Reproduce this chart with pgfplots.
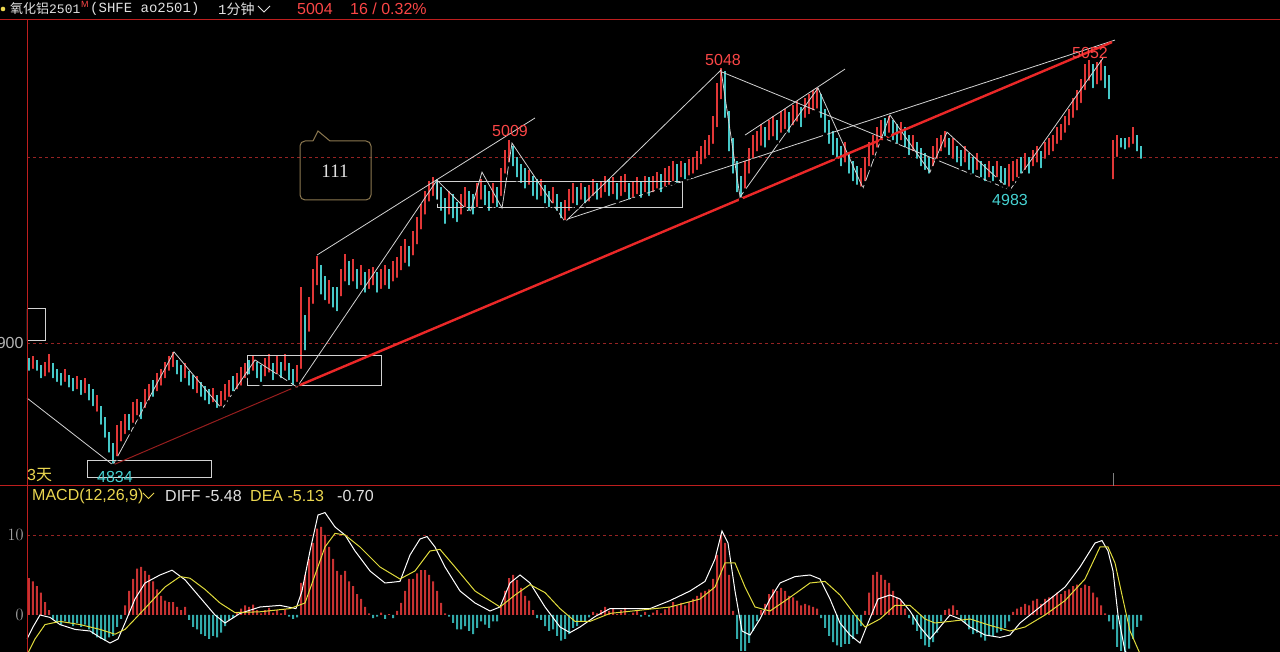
\documentclass[border=0pt]{standalone}
\usepackage{pgfplots}
\usepackage{pgfplotstable}
\pgfplotsset{compat=1.18}
\usepackage{fontspec}
\setmainfont{Liberation Sans}
\newfontfamily\cjk{Noto Sans CJK SC}
\newfontfamily\mono{Liberation Mono}
\newfontfamily\serifx{Liberation Serif}
\newcommand\fs[1]{\fontsize{#1}{#1}\selectfont}
\definecolor{upred}{RGB}{225,55,55}
\definecolor{dncyan}{RGB}{70,200,200}
\definecolor{histred}{RGB}{200,50,50}
\definecolor{histcyan}{RGB}{50,170,170}
\definecolor{framered}{RGB}{190,30,30}
\definecolor{gridred}{RGB}{150,35,35}
\definecolor{txtred}{RGB}{250,70,70}
\definecolor{txtcyan}{RGB}{70,210,210}
\definecolor{txtyellow}{RGB}{235,215,80}
\definecolor{txtwhite}{RGB}{225,225,225}
\definecolor{ticktxt}{RGB}{180,180,180}
\definecolor{tanbox}{RGB}{140,120,80}
\definecolor{dealine}{RGB}{225,220,60}
\definecolor{linewhite}{RGB}{210,210,210}
\definecolor{trendred}{RGB}{235,40,40}
\definecolor{trenddark}{RGB}{150,30,30}

\pgfplotstableread{
x lo hi d m
29 4884 4892 0 4.6
33 4885 4893 1 4.2
37 4884 4891 0 3.6
41 4880 4888 0 2.8
45 4881 4890 1 1.6
49 4883 4894 1 0.6
53 4880 4889 0 -0.5
57 4878 4886 0 -1.0
61 4876 4884 0 -1.2
65 4878 4886 1 -0.8
69 4875 4883 0 -1.0
73 4873 4881 0 -1.4
77 4874 4882 1 -1.0
81 4871 4880 0 -1.5
85 4872 4881 1 -1.2
89 4868 4878 0 -1.8
93 4865 4875 0 -2.4
97 4862 4872 1 -2.8
101 4855 4866 0 -3.0
105 4848 4860 0 -3.2
109 4840 4852 0 -2.8
113 4834 4846 0 -2.6
117 4838 4856 1 -1.5
121 4846 4858 1 -0.5
125 4850 4862 1 1.2
129 4852 4862 0 3.0
133 4856 4868 1 4.5
137 4860 4870 1 5.8
141 4858 4868 0 6.0
145 4864 4875 1 5.5
149 4868 4878 1 5.0
153 4870 4880 0 4.2
157 4873 4884 1 3.2
161 4876 4886 1 2.4
165 4880 4890 1 1.8
169 4884 4893 1 1.6
173 4886 4895 1 1.6
177 4882 4891 0 1.0
181 4878 4888 0 0.6
185 4880 4889 1 1.0
189 4876 4885 0 -0.6
193 4874 4883 0 -1.5
197 4872 4882 1 -1.8
201 4870 4879 0 -2.4
205 4868 4877 0 -2.6
209 4866 4875 0 -3.0
213 4867 4876 1 -2.6
217 4864 4872 0 -2.8
221 4865 4874 1 -2.2
225 4868 4878 1 -1.4
229 4870 4880 1 -0.6
233 4873 4882 0 -0.4
237 4874 4884 1 0.4
241 4876 4887 1 0.8
245 4880 4889 1 1.2
249 4882 4891 0 1.0
253 4884 4893 1 1.3
257 4880 4890 0 0.6
261 4878 4888 0 0.2
265 4881 4892 1 0.6
269 4883 4894 1 0.9
273 4879 4889 0 0.3
277 4882 4893 1 0.6
281 4880 4890 0 0.2
285 4884 4894 1 0.7
289 4879 4889 0 -0.2
293 4876 4886 0 -0.5
297 4878 4888 1 -0.3
301 4885 4930 1 4.0
305 4895 4915 0 5.0
309 4905 4925 1 7.0
313 4920 4940 1 9.0
317 4930 4947 1 10.8
321 4925 4942 0 11.0
325 4922 4936 0 10.0
329 4920 4934 1 8.5
333 4918 4930 0 7.0
337 4916 4930 0 5.5
341 4924 4940 1 5.0
345 4932 4948 1 5.5
349 4930 4944 0 4.2
353 4932 4945 1 3.6
357 4928 4940 0 2.6
361 4930 4942 1 2.0
365 4926 4938 0 1.0
369 4928 4940 1 0.2
373 4930 4941 1 -0.4
377 4926 4938 0 -0.2
381 4928 4940 1 0.3
385 4930 4942 1 -0.5
389 4928 4940 0 0.1
393 4932 4944 1 -0.4
397 4934 4946 1 0.5
401 4938 4952 1 1.5
405 4942 4956 1 3.0
409 4940 4952 0 4.5
413 4946 4960 1 4.5
417 4952 4968 1 5.2
421 4960 4975 1 5.6
425 4968 4982 1 5.6
429 4975 4987 1 5.0
433 4978 4989 1 4.2
437 4976 4988 0 3.0
441 4970 4984 0 1.5
445 4963 4978 0 0.2
449 4968 4982 1 -0.2
453 4966 4980 0 -1.0
457 4964 4976 0 -1.8
461 4968 4980 1 -1.8
465 4972 4984 1 -1.4
469 4970 4982 0 -2.0
473 4968 4980 0 -2.4
477 4972 4986 1 -1.6
481 4976 4988 1 -0.8
485 4973 4985 0 -1.2
489 4970 4982 0 -1.6
493 4974 4986 1 -0.8
497 4972 4984 0 -0.8
501 4978 4994 1 1.2
505 4990 5004 1 3.0
509 4996 5009 1 4.6
513 4994 5006 0 5.0
517 4988 5000 0 4.4
521 4985 4996 0 3.4
525 4982 4994 0 2.4
529 4984 4993 1 1.8
533 4978 4990 0 0.6
537 4976 4988 0 -0.4
541 4978 4988 1 -0.6
545 4974 4985 0 -1.4
549 4972 4982 0 -2.0
553 4974 4984 1 -1.8
557 4970 4980 0 -2.6
561 4966 4976 0 -3.2
565 4965 4977 1 -3.0
569 4970 4983 1 -2.4
573 4974 4986 1 -1.6
577 4973 4984 0 -1.4
581 4976 4986 1 -0.8
585 4974 4984 0 -0.8
589 4975 4985 1 -0.3
593 4978 4988 1 0.4
597 4976 4986 0 0.2
601 4977 4987 1 0.6
605 4980 4990 1 1.0
609 4978 4988 0 0.5
613 4979 4989 1 0.8
617 4976 4986 0 0.1
621 4978 4990 1 0.6
625 4980 4991 1 0.9
629 4976 4986 0 0.0
633 4977 4987 1 0.3
637 4979 4989 1 0.6
641 4977 4987 0 -0.2
645 4980 4990 1 0.4
649 4978 4989 0 -0.2
653 4980 4990 1 0.3
657 4982 4992 1 0.6
661 4980 4991 0 0.2
665 4983 4994 1 0.7
669 4984 4995 1 1.0
673 4986 4998 1 1.6
677 4985 4996 0 1.2
681 4988 4998 1 1.5
685 4987 4997 0 1.2
689 4989 4999 1 1.6
693 4990 5000 1 2.0
697 4992 5003 1 2.4
701 4995 5006 1 2.8
705 4998 5009 1 3.0
709 5000 5012 1 3.2
713 5006 5022 1 4.5
717 5015 5040 1 7.5
721 5030 5048 1 10.0
725 5020 5046 0 9.0
729 5002 5025 0 5.0
733 4990 5010 0 0.5
737 4980 4998 0 -3.0
741 4977 4990 0 -4.5
745 4982 4998 1 -4.5
749 4990 5005 1 -3.5
753 4998 5012 1 -2.0
757 5002 5014 1 -0.8
761 5005 5018 1 0.6
765 5004 5016 0 1.4
769 5008 5020 1 2.6
773 5010 5022 1 3.2
777 5008 5020 0 3.0
781 5012 5025 1 3.4
785 5014 5026 1 3.0
789 5012 5024 0 2.4
793 5016 5028 1 2.2
797 5018 5030 1 1.8
801 5015 5027 0 1.2
805 5020 5032 1 1.4
809 5022 5034 1 1.2
813 5024 5036 1 1.0
817 5025 5037 1 0.8
821 5020 5034 0 -0.4
825 5012 5026 0 -1.6
829 5006 5020 0 -2.6
833 5000 5014 0 -3.4
837 4998 5010 0 -3.8
841 4994 5006 0 -4.0
845 4996 5008 1 -3.6
849 4990 5002 0 -3.6
853 4986 4998 0 -3.0
857 4984 4995 0 -2.4
861 4983 4994 1 -1.4
865 4986 5000 1 0.5
869 4994 5008 1 2.8
873 5000 5012 1 5.0
877 5004 5016 1 5.4
881 5008 5020 1 5.0
885 5010 5021 0 4.4
889 5012 5022 1 4.0
893 5008 5020 0 3.0
897 5006 5018 0 2.2
901 5008 5019 1 1.8
905 5004 5016 0 0.8
909 5000 5012 0 -0.4
913 5002 5012 1 -1.2
917 4998 5008 0 -2.0
921 4994 5005 0 -3.0
925 4992 5002 0 -3.8
929 4990 5000 0 -4.0
933 4994 5006 1 -3.4
937 4998 5010 1 -2.2
941 5002 5012 1 -0.8
945 5004 5014 1 0.6
949 5000 5010 0 0.8
953 4998 5010 1 1.2
957 4996 5006 0 0.6
961 4994 5004 0 -0.6
965 4996 5006 1 -1.0
969 4992 5002 0 -1.8
973 4990 5000 0 -2.4
977 4992 5002 1 -2.2
981 4988 4998 0 -2.8
985 4986 4996 0 -3.2
989 4988 4998 1 -2.6
993 4986 4995 0 -2.6
997 4988 4998 1 -2.2
1001 4985 4995 0 -2.0
1005 4984 4994 0 -1.6
1009 4983 4996 1 -0.8
1013 4986 4998 1 0.4
1017 4988 4999 1 0.8
1021 4990 5000 0 1.0
1025 4992 5002 1 1.4
1029 4990 5000 0 1.2
1033 4994 5004 1 1.8
1037 4996 5006 1 2.0
1041 4993 5003 0 1.4
1045 4998 5008 1 2.0
1049 5000 5010 1 2.2
1053 5002 5012 1 2.4
1057 5006 5016 1 2.8
1061 5008 5018 1 2.6
1065 5012 5022 1 3.0
1069 5016 5026 1 3.2
1073 5020 5032 1 3.6
1077 5024 5036 1 3.8
1081 5028 5042 1 3.4
1085 5035 5050 1 3.8
1089 5040 5052 1 3.6
1093 5036 5050 0 2.8
1097 5038 5051 1 2.2
1101 5040 5052 1 1.2
1105 5036 5049 0 0.2
1109 5030 5044 0 -0.8
1113 4987 5009 1 -1.8
1117 4999 5012 1 -4.0
1121 5004 5010 0 -4.5
1125 5003 5010 0 -4.6
1129 5004 5011 1 -4.2
1133 5006 5016 1 -3.0
1137 5002 5012 0 -1.5
1141 4998 5006 0 -0.7
}\candles

\pgfplotstableread{
x v
27 -3.0
33 -1.5
40 0.0
50 -0.3
60 -1.2
75 -1.8
90 -2.0
100 -2.8
110 -3.5
118 -3.0
125 -1.0
135 2.0
145 4.0
160 5.0
172 5.6
185 4.4
200 2.2
215 0.0
225 -1.0
240 0.2
260 1.0
280 1.2
296 0.8
302 3.0
310 8.0
318 12.5
325 12.8
335 11.0
345 10.0
355 8.0
370 5.5
385 4.0
400 4.2
410 7.5
420 9.5
427 9.8
435 8.5
445 6.0
460 3.0
475 1.5
490 0.5
500 1.0
510 4.0
520 5.0
530 4.0
545 1.0
560 -1.5
570 -2.2
580 -1.5
595 -0.2
610 0.8
630 0.8
650 0.8
670 1.8
690 3.0
705 4.2
715 7.0
722 10.5
728 9.0
735 3.0
742 -2.0
750 -2.5
760 -0.5
770 2.0
780 4.0
795 4.8
810 5.0
820 4.5
830 2.0
840 -1.0
850 -2.5
860 -3.5
868 -1.0
878 2.0
890 2.5
900 2.0
910 0.5
920 -1.5
930 -3.0
940 -1.5
950 0.0
960 -0.5
970 -1.5
985 -2.5
1000 -2.8
1010 -2.5
1020 -1.0
1035 0.5
1050 2.0
1065 3.5
1080 6.0
1095 9.0
1102 9.3
1108 8.0
1113 5.5
1118 0.0
1125 -4.5
1132 -5.5
1141 -5.48
}\diffdata

\pgfplotstableread{
x v
27 -5.0
35 -3.0
45 -1.2
60 -0.8
80 -1.2
100 -1.8
115 -2.4
125 -1.8
135 -0.5
150 1.5
165 3.5
180 4.8
190 4.6
205 3.2
220 1.5
235 0.3
260 0.4
290 0.8
305 1.5
315 5.0
325 8.5
335 10.2
345 10.0
360 8.5
380 6.0
400 4.5
415 5.5
430 8.0
440 8.2
455 6.0
475 3.0
500 1.0
515 2.5
530 3.8
545 2.8
560 0.8
575 -0.8
590 -0.8
610 0.2
640 0.6
670 1.0
700 2.0
715 3.5
725 6.5
735 6.5
745 3.5
755 1.0
770 0.5
790 2.2
810 4.0
825 4.2
840 2.5
855 0.0
865 -1.5
880 -0.5
895 1.2
910 1.2
925 -0.5
935 -1.0
950 -0.8
970 -0.5
990 -1.3
1010 -2.0
1025 -1.5
1045 0.0
1065 1.8
1085 4.5
1100 8.5
1108 8.5
1115 6.5
1122 2.5
1130 -2.0
1141 -5.13
}\deadata

\begin{document}
\begin{tikzpicture}[x=1pt,y=1pt]
\path[use as bounding box, fill=black] (0,0) rectangle (1280,652);

% ---------------- price panel ----------------
\begin{axis}[
  at={(27pt,166pt)}, anchor=south west, scale only axis,
  width=1253pt, height=466pt,
  xmin=27, xmax=1280, ymin=4823.1, ymax=5073.7,
  axis line style={draw=none}, tick style={draw=none}, major tick length=0pt,
  xtick=\empty, ytick={4900,5000}, yticklabels={4900,{}},
  ymajorgrids, grid style={gridred, line width=0.7pt, dash pattern=on 3pt off 3pt},
  yticklabel style={font=\fs{16}, text=ticktxt},
]
\addplot[only marks, mark=none, forget plot,
  restrict expr to domain={\thisrow{d}}{0.5:1.5},
  error bars/.cd, y dir=plus, y explicit, error mark=none,
  error bar style={draw=upred, line width=1.8pt}]
  table[x=x, y=lo, y error expr=\thisrow{hi}-\thisrow{lo}] {\candles};
\addplot[only marks, mark=none, forget plot,
  restrict expr to domain={\thisrow{d}}{-0.5:0.5},
  error bars/.cd, y dir=plus, y explicit, error mark=none,
  error bar style={draw=dncyan, line width=1.8pt}]
  table[x=x, y=lo, y error expr=\thisrow{hi}-\thisrow{lo}] {\candles};
% drawn zigzag
\addplot[linewhite, line width=0.8pt, forget plot] coordinates {
(27,4870.4) (113,4834.4) (174,4895.2) (222,4864.5) (255,4890.9) (297,4876.3)
(437,4987.6) (470,4969.9) (482,4991.9) (502,4972.6) (512,5007.5) (565,4965.1)
(721,5046.8) (740,4978.5) (818,5037.1) (863,4983.3) (890,5022.6) (930,4991.9)
(947,5013.4) (1010,4982.3) (1103,5053.2)};
\addplot[linewhite, line width=0.8pt, forget plot] coordinates {(317,4947.3) (535,5021.0)};
\addplot[linewhite, line width=0.8pt, forget plot] coordinates {(568,4966.7) (1115,5062.9)};
\addplot[linewhite, line width=0.8pt, forget plot] coordinates {(722,5045.7) (1010,4982.3)};
\addplot[linewhite, line width=0.8pt, forget plot] coordinates {(745,5011.8) (845,5047.3)};
% boxes
\addplot[linewhite, line width=1pt, forget plot] coordinates {(27,4918.3) (45,4918.3) (45,4901.6) (27,4901.6) (27,4918.3)};
\addplot[linewhite, line width=1pt, forget plot] coordinates {(87,4836.6) (211,4836.6) (211,4827.4) (87,4827.4) (87,4836.6)};
\addplot[linewhite, line width=1pt, forget plot] coordinates {(247,4893.5) (381,4893.5) (381,4877.4) (247,4877.4) (247,4893.5)};
\addplot[linewhite, line width=1pt, forget plot] coordinates {(437,4987.1) (682,4987.1) (682,4972.6) (437,4972.6) (437,4987.1)};
% red trend line
\addplot[trenddark, line width=1pt, forget plot] coordinates {(113,4834.4) (300,4877.4)};
\addplot[trendred, line width=2.4pt, forget plot] coordinates {(300,4877.4) (1112,5061.8)};
\end{axis}

% ---------------- MACD panel ----------------
\begin{axis}[
  at={(27pt,0pt)}, anchor=south west, scale only axis,
  width=1253pt, height=166pt,
  xmin=27, xmax=1280, ymin=-4.625, ymax=16.125,
  axis line style={draw=none}, tick style={draw=none}, major tick length=0pt,
  xtick=\empty, ytick={0,10},
  extra y ticks={10}, extra y tick labels={},
  extra y tick style={grid=major},
  grid style={gridred, line width=0.7pt, dash pattern=on 3pt off 3pt},
  yticklabel style={font=\fs{16}, text=ticktxt},
]
\addplot[ybar, bar width=2pt, bar shift=0pt, fill=histred, draw=none, forget plot,
  restrict y to domain=0:50] table[x=x, y=m] {\candles};
\addplot[ybar, bar width=2pt, bar shift=0pt, fill=histcyan, draw=none, forget plot,
  restrict y to domain=-50:0] table[x=x, y=m] {\candles};
\addplot[white, line width=1pt, forget plot] table[x=x, y=v] {\diffdata};
\addplot[dealine, line width=1pt, forget plot] table[x=x, y=v] {\deadata};
\end{axis}

% ---------------- frame ----------------
\draw[framered, line width=1pt] (0,632) -- (1280,632);
\draw[framered, line width=1pt] (0,166) -- (1280,166);
\draw[framered, line width=1pt] (27,0) -- (27,632);
\draw[gray, line width=1pt] (1113,166) -- (1113,179);

% ---------------- header ----------------
\fill[txtyellow] (3,643) circle (2.3);
\node[anchor=west, inner sep=0pt, text=txtwhite] at (10,643) {\cjk\fs{13}氧化铝\mono 2501};
\node[anchor=west, inner sep=0pt, text=txtred] at (81,648) {\fs{9}M};
\node[anchor=west, inner sep=0pt, text=txtwhite] at (90,643) {\mono\fs{14}(SHFE ao2501)};
\node[anchor=west, inner sep=0pt, text=txtwhite] at (218,643) {\mono\fs{14}1\cjk\fs{14}分钟};
\draw[txtwhite, line width=0.9pt] (258,646) -- (264,640) -- (270,646);
\node[anchor=west, inner sep=0pt, text=txtred] at (297,643) {\fs{16}5004};
\node[anchor=west, inner sep=0pt, text=txtred] at (350,643) {\fs{16}16 / 0.32\%};

% ---------------- price annotations ----------------
\node[anchor=west, inner sep=0pt, text=txtyellow] at (27,177) {\fs{16}3\cjk 天};
\node[inner sep=0pt, text=txtcyan] at (115,175) {\fs{16}4834};
\node[inner sep=0pt, text=txtred] at (510,521) {\fs{16}5009};
\node[inner sep=0pt, text=txtred] at (723,592) {\fs{16}5048};
\node[inner sep=0pt, text=txtred] at (1090,599) {\fs{16}5052};
\node[inner sep=0pt, text=txtcyan] at (1010,452) {\fs{16}4983};

% ---------------- 111 callout ----------------
\draw[tanbox, line width=1pt, rounded corners=5pt] (330,511) -- (371,511) -- (371,452) -- (300,452) -- (300,511) -- (313,511);
\draw[tanbox, line width=1pt] (313,511) -- (318,521) -- (330,511);
\node[inner sep=0pt, text=txtwhite] at (335,481) {\serifx\fs{19}111};

% ---------------- MACD header ----------------
\node[anchor=west, inner sep=0pt, text=txtyellow] at (32,156) {\fs{16}MACD(12,26,9)};
\draw[txtyellow, line width=0.9pt] (143,159) -- (148.5,153.5) -- (154,159);
\node[anchor=west, inner sep=0pt, text=txtwhite] at (165,156) {\fs{16}DIFF -5.48};
\node[anchor=west, inner sep=0pt, text=txtyellow] at (250,156) {\fs{16}DEA -5.13};
\node[anchor=west, inner sep=0pt, text=txtwhite] at (337,156) {\fs{16}-0.70};
\end{tikzpicture}
\end{document}
